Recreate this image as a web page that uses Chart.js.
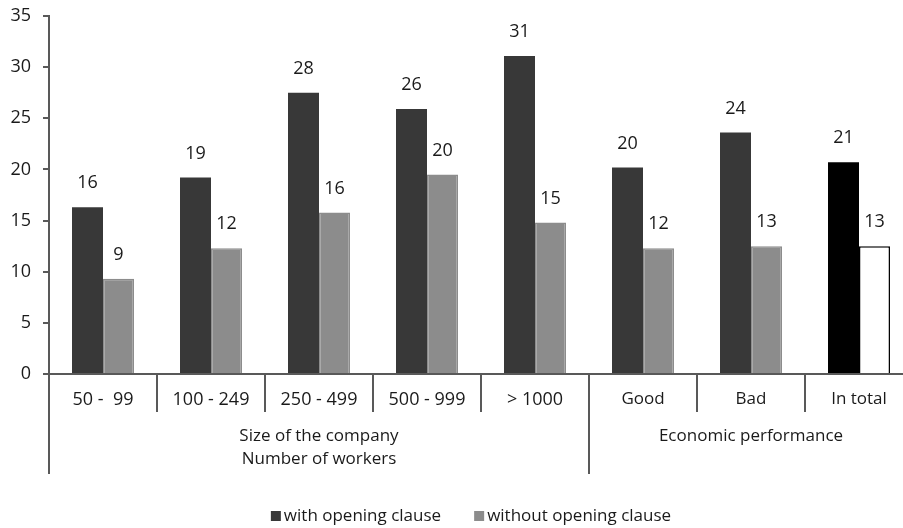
<!DOCTYPE html>
<html>
<head>
<meta charset="utf-8">
<script src="https://cdn.jsdelivr.net/npm/chart.js@4.4.1/dist/chart.umd.min.js"></script>
<style>
  html, body { margin: 0; padding: 0; background: #fff; overflow: hidden; }
  #wrap { width: 942px; height: 528px; }
</style>
</head>
<body>
<div id="wrap"><canvas id="clauseChart"></canvas></div>
<script>
const categories = ['50 -  99', '100 - 249', '250 - 499', '500 - 999', '> 1000', 'Good', 'Bad', 'In total'];
const withClause = [16.3, 19.2, 27.5, 25.9, 31.1, 20.2, 23.6, 20.7];
const withoutClause = [9.3, 12.3, 15.8, 19.5, 14.8, 12.3, 12.5, 12.5];
const seriesNames = ['with opening clause', 'without opening clause'];
const groupNames = [['Size of the company', 'Number of workers'], ['Economic performance']];
const groupSpans = [[0, 4], [5, 7]];
const yMax = 35;
const yStep = 5;

const FONT = '"Open Sans", sans-serif';
const NUM_SIZE = 18;   // figures: ticks, value labels, size classes
const WORD_SIZE = 17;  // words: group titles, legend, performance labels
const TEXT = '#1a1a1a';
const AXIS = '#595959';
const DARK = '#383838';
const LIGHT = '#8c8c8c';
const last = categories.length - 1;
const sizeClasses = groupSpans[0][1] + 1;

// "In total" is drawn black / white, everything else in the two greys
const withColors = categories.map((c, i) => i === last ? '#000000' : DARK);
const withoutColors = categories.map((c, i) => i === last ? '#ffffff' : LIGHT);
const withoutBorders = categories.map((c, i) => i === last ? '#000000' : LIGHT);

const valueLabels = {
    id: 'valueLabels',
    afterDatasetsDraw(chart) {
        const ctx = chart.ctx;
        ctx.save();
        ctx.font = NUM_SIZE + 'px ' + FONT;
        ctx.fillStyle = TEXT;
        ctx.textAlign = 'center';
        ctx.textBaseline = 'middle';
        chart.data.datasets.forEach((ds, di) => {
            chart.getDatasetMeta(di).data.forEach((bar, i) => {
                ctx.fillText(Math.round(ds.data[i]), bar.x, bar.y - 24);
            });
        });
        ctx.restore();
    }
};

const groupAxis = {
    id: 'groupAxis',
    afterDraw(chart) {
        const { ctx, chartArea } = chart;
        const x = chart.scales.x;
        const half = (x.getPixelForValue(1) - x.getPixelForValue(0)) / 2;
        const base = chartArea.bottom;
        ctx.save();
        ctx.strokeStyle = AXIS;
        ctx.lineWidth = 2;

        // short separators between the categories
        for (let i = 1; i < categories.length; i++) {
            const px = Math.round(x.getPixelForValue(i) - half);
            ctx.beginPath();
            ctx.moveTo(px, base);
            ctx.lineTo(px, base + 38);
            ctx.stroke();
        }

        ctx.font = WORD_SIZE + 'px ' + FONT;
        ctx.fillStyle = TEXT;
        ctx.textAlign = 'center';
        ctx.textBaseline = 'middle';
        groupSpans.forEach(([from, to], g) => {
            const left = Math.round(x.getPixelForValue(from) - half);
            const right = Math.round(x.getPixelForValue(to) + half);
            [left, right].forEach(px => {
                ctx.beginPath();
                ctx.moveTo(px, base - 1);
                ctx.lineTo(px, base + 100);
                ctx.stroke();
            });
            groupNames[g].forEach((line, k) => {
                ctx.fillText(line, (left + right) / 2, base + 62 + k * 23);
            });
        });
        ctx.restore();
    }
};

const bottomLegend = {
    id: 'bottomLegend',
    afterDraw(chart) {
        const ctx = chart.ctx;
        const box = 10, gap = 3, spacing = 33;
        ctx.save();
        ctx.font = WORD_SIZE + 'px ' + FONT;
        ctx.textBaseline = 'middle';
        ctx.textAlign = 'left';
        const widths = seriesNames.map(n => ctx.measureText(n).width);
        const total = widths.reduce((a, w) => a + box + gap + w, 0) + spacing * (seriesNames.length - 1);
        let cx = chart.width / 2 - total / 2;
        const cy = chart.chartArea.bottom + 142;
        [DARK, LIGHT].forEach((col, i) => {
            ctx.fillStyle = col;
            ctx.fillRect(cx, cy - box / 2, box, box);
            cx += box + gap;
            ctx.fillStyle = TEXT;
            ctx.fillText(seriesNames[i], cx, cy);
            cx += widths[i] + spacing;
        });
        ctx.restore();
    }
};

new Chart(document.getElementById('clauseChart'), {
    type: 'bar',
    data: {
        labels: categories,
        datasets: [
            { label: seriesNames[0], data: withClause, backgroundColor: withColors, borderWidth: 0 },
            { label: seriesNames[1], data: withoutClause, backgroundColor: withoutColors,
              borderColor: withoutBorders, borderWidth: 1.5 }
        ]
    },
    options: {
        responsive: true,
        maintainAspectRatio: false,
        animation: false,
        events: [],
        layout: { padding: { top: 16, left: 0, right: 29, bottom: 54 } },
        datasets: { bar: { categoryPercentage: 0.574, barPercentage: 1 } },
        plugins: { legend: { display: false }, tooltip: { enabled: false } },
        scales: {
            x: {
                grid: { display: false },
                border: { display: true, color: AXIS, width: 2 },
                ticks: {
                    color: TEXT,
                    font: c => ({ family: FONT, size: c.index < sizeClasses ? NUM_SIZE : WORD_SIZE }),
                    padding: 7, maxRotation: 0, autoSkip: false
                },
                afterFit(scale) { scale.height = 100; }
            },
            y: {
                min: 0,
                max: yMax,
                grid: { drawOnChartArea: false, drawTicks: true, tickLength: 6, color: AXIS, lineWidth: 2 },
                border: { display: true, color: AXIS, width: 2 },
                ticks: { stepSize: yStep, color: TEXT, font: { family: FONT, size: NUM_SIZE }, padding: 12 },
                afterFit(scale) {
                    scale.width = 49;
                    scale.paddingTop = 0;
                    scale.paddingBottom = 0;
                }
            }
        }
    },
    plugins: [valueLabels, groupAxis, bottomLegend]
});
</script>
</body>
</html>
